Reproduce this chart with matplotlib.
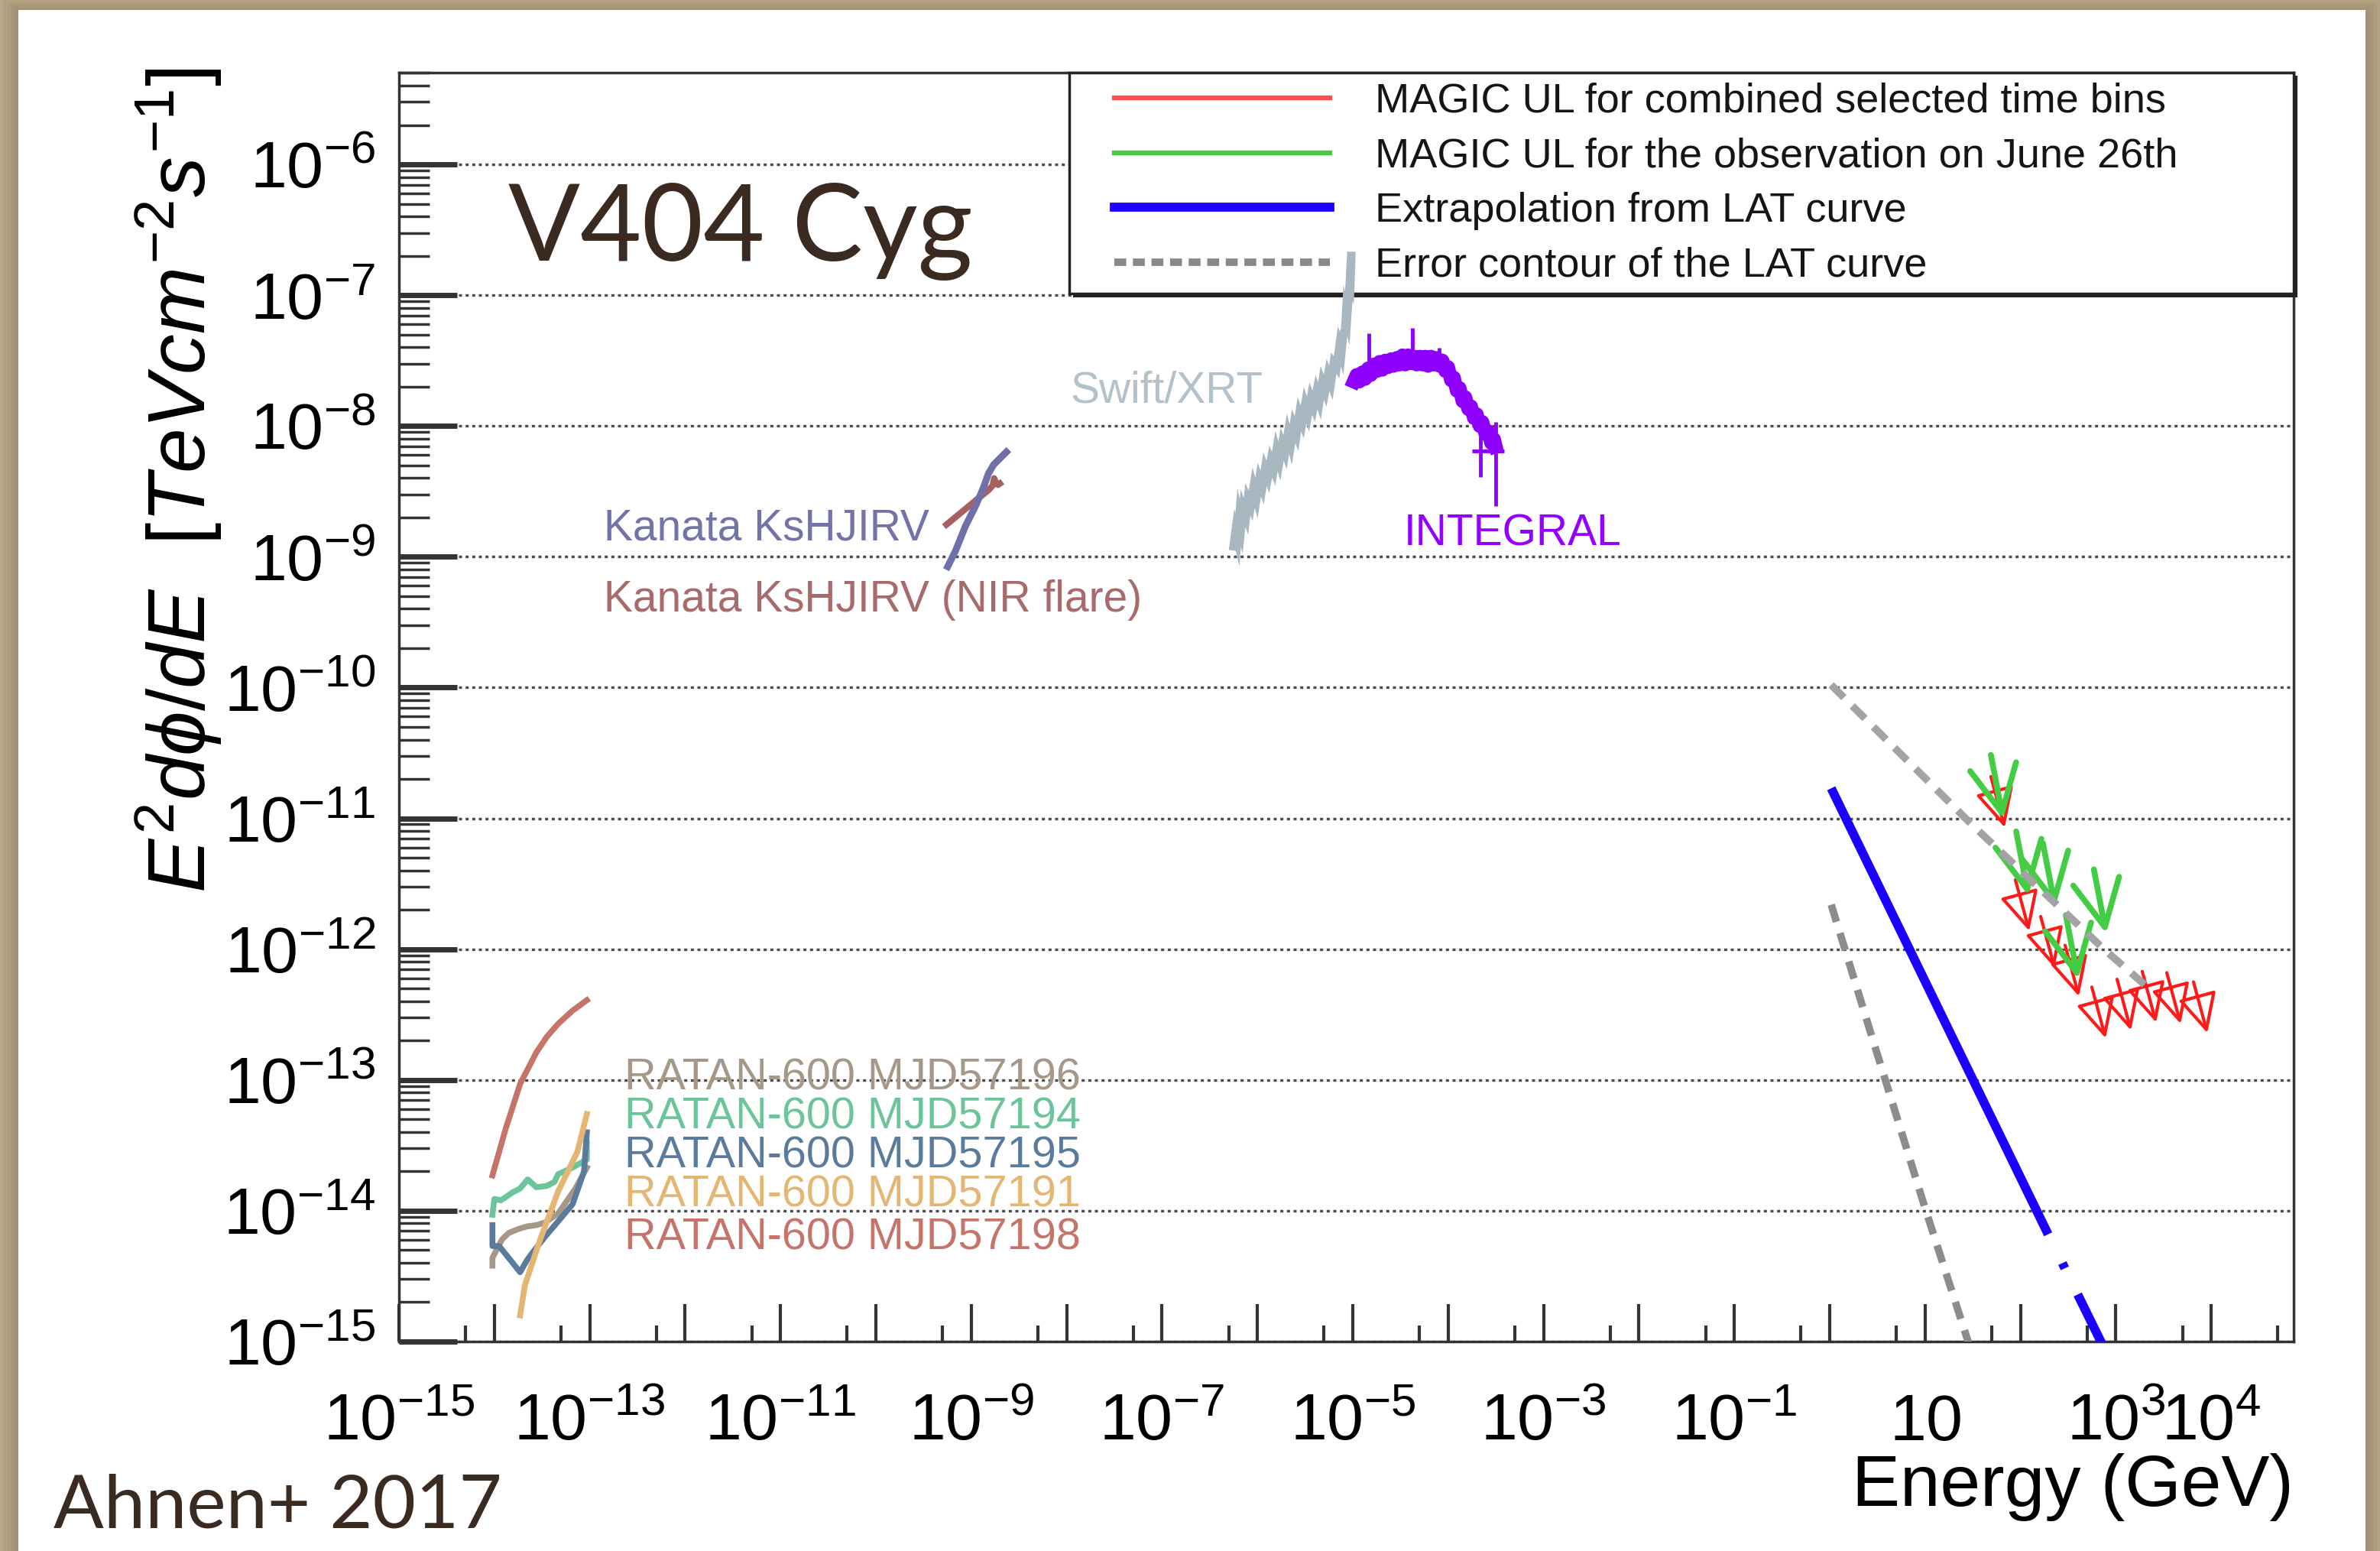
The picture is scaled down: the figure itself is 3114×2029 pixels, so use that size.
import numpy as np
import matplotlib
matplotlib.use("Agg")
import matplotlib.pyplot as plt
from matplotlib.lines import Line2D
from matplotlib.patches import Rectangle
from matplotlib.ticker import FixedLocator, FixedFormatter, LogLocator, NullFormatter

plt.rcParams['font.family'] = ['Liberation Sans', 'DejaVu Sans']
plt.rcParams['mathtext.fontset'] = 'custom'
plt.rcParams['mathtext.rm'] = 'Liberation Sans'
plt.rcParams['mathtext.it'] = 'Liberation Sans:italic'
plt.rcParams['mathtext.bf'] = 'Liberation Sans:bold'
plt.rcParams['mathtext.fallback'] = 'stixsans'

########## data (log10 E/GeV , log10 E^2 dphi/dE) ##########

## Swift/XRT
swift_loge = [-6.25, -6.23, -6.21, -6.19, -6.17, -6.15, -6.12, -6.10, -6.07, -6.04,
              -6.01, -5.98, -5.95, -5.92, -5.89, -5.86, -5.83, -5.80, -5.77, -5.74,
              -5.71, -5.68, -5.65, -5.62, -5.59, -5.56, -5.53, -5.50, -5.47, -5.44,
              -5.41, -5.38, -5.35, -5.32, -5.29, -5.26, -5.23, -5.20, -5.17, -5.14,
              -5.12, -5.10, -5.08, -5.07, -5.06, -5.05, -5.04, -5.03, -5.025, -5.02, -5.016]
swift_logf = [-8.92, -8.81, -8.87, -8.70, -8.77, -8.63, -8.69, -8.56, -8.61, -8.47,
              -8.55, -8.41, -8.47, -8.33, -8.39, -8.27, -8.33, -8.19, -8.27, -8.14,
              -8.20, -8.06, -8.14, -8.00, -8.06, -7.91, -7.97, -7.84, -7.91, -7.79,
              -7.85, -7.74, -7.81, -7.67, -7.73, -7.61, -7.67, -7.52, -7.55, -7.39,
              -7.44, -7.29, -7.27, -7.14, -7.17, -7.06, -7.03, -6.89, -6.90, -6.80, -6.70]

## INTEGRAL
integral_loge = [-4.99, -4.96, -4.93, -4.90, -4.87, -4.84, -4.81, -4.78, -4.75, -4.72,
                 -4.69, -4.66, -4.63, -4.60, -4.57, -4.54, -4.51, -4.48, -4.45, -4.42,
                 -4.39, -4.36, -4.33, -4.30, -4.27, -4.24, -4.21, -4.18, -4.15, -4.12,
                 -4.09, -4.06, -4.03, -4.00, -3.97, -3.94, -3.91, -3.88, -3.85, -3.82,
                 -3.79, -3.76, -3.73, -3.70, -3.67, -3.64, -3.61, -3.58, -3.55, -3.52, -3.50]
integral_logf = [-7.66, -7.61, -7.66, -7.59, -7.64, -7.56, -7.61, -7.53, -7.58, -7.51,
                 -7.57, -7.50, -7.55, -7.49, -7.54, -7.48, -7.53, -7.46, -7.53, -7.46,
                 -7.52, -7.47, -7.53, -7.47, -7.53, -7.47, -7.54, -7.47, -7.53, -7.48,
                 -7.54, -7.50, -7.58, -7.55, -7.65, -7.63, -7.73, -7.71, -7.81, -7.78,
                 -7.87, -7.85, -7.94, -7.91, -8.00, -7.97, -8.06, -8.04, -8.13, -8.10, -8.16]
# error bars sticking out of the INTEGRAL band
integral_err_loge = [-4.83, -4.375, -4.097, -3.662, -3.502]
integral_err_lo = [-7.62, -7.52, -7.52, -8.39, -8.61]
integral_err_hi = [-7.29, -7.25, -7.40, -8.07, -7.97]
integral_xerr_logf = [-8.19]
integral_xerr_lo = [-3.75]
integral_xerr_hi = [-3.41]

## Kanata
kanata_loge = [-9.247, -9.167, -9.060, -8.953, -8.873, -8.820, -8.766, -8.700, -8.632]
kanata_logf = [-9.075, -8.958, -8.764, -8.609, -8.472, -8.364, -8.297, -8.248, -8.199]
kanata_nir_loge = [-9.26, -9.113, -8.953, -8.82, -8.775, -8.76, -8.745, -8.72, -8.70]
kanata_nir_logf = [-8.754, -8.666, -8.569, -8.491, -8.455, -8.40, -8.43, -8.45, -8.44]

## RATAN-600
ratan_57198_loge = [-14.02, -13.95, -13.88, -13.80, -13.73, -13.56, -13.45, -13.33, -13.18, -13.03]
ratan_57198_logf = [-13.73, -13.55, -13.37, -13.19, -13.03, -12.79, -12.67, -12.57, -12.47, -12.39]
ratan_57194_loge = [-14.02, -14.00, -13.93, -13.81, -13.73, -13.65, -13.56, -13.45, -13.37,
                    -13.33, -13.18, -13.06, -13.03, -13.03]
ratan_57194_logf = [-14.03, -13.91, -13.92, -13.86, -13.83, -13.76, -13.82, -13.81, -13.78,
                    -13.72, -13.67, -13.62, -13.61, -13.48]
ratan_57195_loge = [-14.02, -14.02, -13.95, -13.85, -13.73, -13.66, -13.61, -13.47, -13.33,
                    -13.18, -13.06, -13.03]
ratan_57195_logf = [-14.11, -14.27, -14.27, -14.36, -14.47, -14.38, -14.33, -14.20, -14.08,
                    -13.95, -13.70, -13.40]
ratan_57196_loge = [-14.02, -14.02, -13.92, -13.85, -13.75, -13.66, -13.56, -13.47, -13.33,
                    -13.15, -13.03]
ratan_57196_logf = [-14.42, -14.36, -14.22, -14.17, -14.14, -14.12, -14.11, -14.09, -14.02,
                    -13.83, -13.67]
ratan_57191_loge = [-13.73, -13.68, -13.52, -13.33, -13.13, -13.03]
ratan_57191_logf = [-14.80, -14.57, -14.22, -13.85, -13.55, -13.26]

ratan_names = ['RATAN-600 MJD57196', 'RATAN-600 MJD57194', 'RATAN-600 MJD57195',
               'RATAN-600 MJD57191', 'RATAN-600 MJD57198']
ratan_colors = ['#a69888', '#6cc49a', '#5b7b9c', '#e5b673', '#c6736a']

## LAT extrapolation and its error contour (nan = gap in the drawn line)
lat_loge = [0.016, 2.29, np.nan, 2.44, 2.465, np.nan, 2.60, 2.87]
lat_logf = [-10.77, -14.18, np.nan, -14.40, -14.44, np.nan, -14.64, -15.04]
lat_up_loge = [0.016, 1.466, 2.89, 3.30]
lat_up_logf = [-9.98, -11.03, -12.01, -12.27]
lat_lo_loge = [0.016, 0.43, 1.0, 1.46]
lat_lo_logf = [-11.66, -12.64, -13.98, -15.02]

## MAGIC upper limits
magic_comb_loge = [1.69, 1.947, 2.212, 2.468, 2.748, 3.013, 3.277, 3.534, 3.814]
magic_comb_logf = [-10.68, -11.47, -11.75, -11.97, -12.29, -12.23, -12.17, -12.18, -12.25]
magic_june26_loge = [1.69, 1.955, 2.236, 2.476, 2.77]
magic_june26_logf = [-10.515, -11.10, -11.19, -11.74, -11.39]

## axis ticks
xtick_exp = list(range(-15, 5))
xtick_labels = ['$10^{-15}$', '', '$10^{-13}$', '', '$10^{-11}$', '', '$10^{-9}$', '',
                '$10^{-7}$', '', '$10^{-5}$', '', '$10^{-3}$', '', '$10^{-1}$', '',
                '$10$', '', '$10^{3}$', '$10^{4}$']
ytick_exp = list(range(-15, -5))
ytick_labels = ['$10^{-15}$', '$10^{-14}$', '$10^{-13}$', '$10^{-12}$', '$10^{-11}$',
                '$10^{-10}$', '$10^{-9}$', '$10^{-8}$', '$10^{-7}$', '$10^{-6}$']


def p10(v):
    return np.power(10.0, np.array(v, dtype=float))


## draw one set of upper limit arrows
def drawUL(ax, loge, logf, dloge, dlogf, style, ec, fc, lw, head, z):
    for e, f in zip(loge, logf):
        ax.annotate('', xy=(10**(e + dloge), 10**(f + dlogf)), xytext=(10**e, 10**f),
                    arrowprops=dict(arrowstyle=style, edgecolor=ec, facecolor=fc, lw=lw,
                                    shrinkA=0, shrinkB=0, mutation_scale=head),
                    zorder=z)


########## figure ##########
fig = plt.figure(figsize=(31.14, 20.29), dpi=100)
fig.patch.set_facecolor('#c8b794')

# soft shadow round the white card
for k in range(6):
    pad = 0.0016 * (k + 1)
    fig.add_artist(Rectangle((0.0077 - pad, -0.02), 0.9862 + 2 * pad, 1.0138 + pad,
                             transform=fig.transFigure, fc='#4a3a26', ec='none',
                             alpha=0.05, zorder=-3))
fig.add_artist(Rectangle((0.0077, -0.02), 0.9862, 1.0138, transform=fig.transFigure,
                         fc='white', ec='none', zorder=-2))

ax = fig.add_axes([0.16763, 0.13504, 0.79608, 0.81833])
ax.set_xscale('log'); ax.set_yscale('log')
ax.set_xlim(1e-15, 10**4.864)
ax.set_ylim(1e-15, 10**-5.296)

## ticks
ax.xaxis.set_major_locator(FixedLocator(p10(xtick_exp)))
ax.xaxis.set_major_formatter(FixedFormatter(xtick_labels))
ax.xaxis.set_minor_locator(FixedLocator(5 * p10(list(range(-15, 5)))))
ax.xaxis.set_minor_formatter(NullFormatter())
ax.yaxis.set_major_locator(FixedLocator(p10(ytick_exp)))
ax.yaxis.set_major_formatter(FixedFormatter(ytick_labels))
ax.yaxis.set_minor_locator(LogLocator(base=10, subs=np.arange(2, 10), numticks=200))
ax.yaxis.set_minor_formatter(NullFormatter())

ax.tick_params(which='both', direction='in', colors='#333333', labelcolor='black')
ax.tick_params(axis='x', which='major', length=35, width=3, pad=48, labelsize=62)
ax.tick_params(axis='x', which='minor', length=15, width=3)
ax.tick_params(axis='y', which='major', length=55, width=5, pad=22, labelsize=62)
ax.tick_params(axis='y', which='minor', length=29, width=2.5)
ax.tick_params(top=False, right=False, which='both')
for s in ax.spines.values():
    s.set_linewidth(2.5); s.set_color('#333333')

ax.yaxis.grid(True, which='major', color='#4a4a4a', lw=2.4, ls=(0, (1.2, 1.4)))
ax.xaxis.grid(False)

## labels
ax.set_ylabel(r'$E^{2}d\phi/dE\ \ [TeVcm^{-2}s^{-1}]$', fontsize=76, loc='top')
ax.yaxis.set_label_coords(-0.0924, 1.0034)
ax.set_xlabel('Energy (GeV)', fontsize=68, loc='right')
ax.xaxis.set_label_coords(1.0, -0.088)

## low energy data
ax.plot(p10(swift_loge), p10(swift_logf), color='#a9b7c1', lw=8, zorder=11,
        solid_joinstyle='miter')
ax.plot(p10(integral_loge), p10(integral_logf), color='#8f00ff', lw=13, zorder=5)
ax.vlines(p10(integral_err_loge), p10(integral_err_lo), p10(integral_err_hi),
          color='#8f00ff', lw=3.5, zorder=5)
ax.hlines(p10(integral_xerr_logf), p10(integral_xerr_lo), p10(integral_xerr_hi),
          color='#8f00ff', lw=3.5, zorder=5)
ax.plot(p10(kanata_nir_loge), p10(kanata_nir_logf), color='#a66060', lw=6, zorder=5)
ax.plot(p10(kanata_loge), p10(kanata_logf), color='#6f6fa9', lw=6.5, zorder=5)

ratan_sets = [(ratan_57196_loge, ratan_57196_logf), (ratan_57194_loge, ratan_57194_logf),
              (ratan_57195_loge, ratan_57195_logf), (ratan_57191_loge, ratan_57191_logf),
              (ratan_57198_loge, ratan_57198_logf)]
for (le, lf), c in zip(ratan_sets, ratan_colors):
    ax.plot(p10(le), p10(lf), color=c, lw=5.5, zorder=5)

## text labels of the data sets
ax.text(10**-7.961, 10**-7.821, 'Swift/XRT', color='#b3c1ca', fontsize=41, zorder=7)
ax.text(10**-4.465, 10**-8.912, 'INTEGRAL', color='#9400ff', fontsize=41, zorder=7)
ax.text(10**-12.849, 10**-8.873, 'Kanata KsHJIRV', color='#7373aa', fontsize=41, zorder=7)
ax.text(10**-12.849, 10**-9.418, 'Kanata KsHJIRV (NIR flare)', color='#a86a6a',
        fontsize=41, zorder=7)
ratan_label_logf = [-13.074, -13.371, -13.669, -13.966, -14.294]
for name, c, lf in zip(ratan_names, ratan_colors, ratan_label_logf):
    ax.text(10**-12.639, 10**lf, name, color=c, fontsize=41.5, zorder=7)

## high energy part
ax.plot(p10(lat_loge), p10(lat_logf), color='#1a00ff', lw=8.5, zorder=5,
        solid_capstyle='butt')
drawUL(ax, magic_comb_loge, magic_comb_logf, 0.145, -0.39, '-|>', '#ff1a1a', 'none',
       3.0, 80, 6)
drawUL(ax, magic_june26_loge, magic_june26_logf, 0.128, -0.49, '->', '#44cc44', 'none',
       5.5, 110, 7)
ax.plot(p10(lat_up_loge), p10(lat_up_logf), color='#a3a3a3', lw=7, ls=(0, (2.4, 1.6)),
        zorder=8)
ax.plot(p10(lat_lo_loge), p10(lat_lo_logf), color='#8c8c8c', lw=7, ls=(0, (2.4, 1.6)),
        zorder=8)

## legend box with dark shadow
ax.add_patch(Rectangle((0.3558, 0.8230), 0.6462, 0.1743, transform=ax.transAxes,
                       fc='#222222', ec='none', zorder=9, clip_on=False))
ax.add_patch(Rectangle((0.3538, 0.8257), 0.6462, 0.1743, transform=ax.transAxes,
                       fc='white', ec='#222222', lw=2.5, zorder=9, clip_on=False))
handles = [Line2D([], [], color='#ff4d4d', lw=4.5),
           Line2D([], [], color='#44cc44', lw=4.5),
           Line2D([], [], color='#1a00ff', lw=8.5),
           Line2D([], [], color='#888888', lw=7, ls=(0, (1.6, 0.9)))]
labels = ['MAGIC UL for combined selected time bins',
          'MAGIC UL for the observation on June 26th',
          'Extrapolation from LAT curve',
          'Error contour of the LAT curve']
leg = ax.legend(handles, labels, loc='upper left', bbox_to_anchor=(0.3776, 0.992),
                borderaxespad=0, borderpad=0, frameon=False, fontsize=39,
                handlelength=5.2, handletextpad=1.1, labelspacing=0.40)
leg.set_zorder(10)
for t in leg.get_texts():
    t.set_color('#151515')

## slide annotations
fig.text(0.2135, 0.832, 'V404 Cyg', fontsize=100, family='Lato', weight='normal',
         color='#3b2a20')
fig.text(0.0225, 0.0148, 'Ahnen+ 2017', fontsize=70, family='Lato', weight='normal',
         color='#3b2a20')

fig.savefig('out.png', dpi=100, facecolor=fig.get_facecolor())
